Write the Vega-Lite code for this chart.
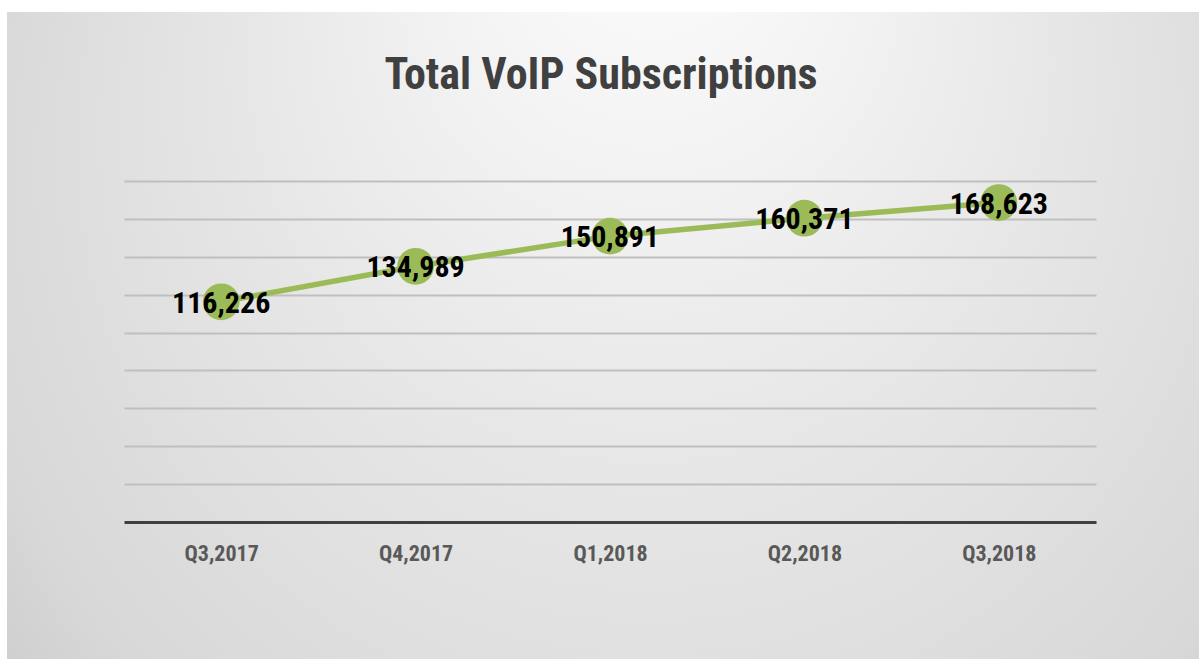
{
  "$schema": "https://vega.github.io/schema/vega-lite/v6.json",
  "width": 1192,
  "height": 647,
  "autosize": {"type": "none"},
  "padding": {"left": 7, "top": 12, "right": 0, "bottom": 0},
  "background": "#ffffff",
  "title": {
    "text": "Total VoIP Subscriptions",
    "font": "Roboto Condensed",
    "fontSize": 44,
    "fontWeight": "bold",
    "color": "#404040",
    "anchor": "middle",
    "baseline": "alphabetic",
    "dx": -2,
    "offset": -121
  },
  "data": {
    "values": [
      {"quarter": "Q3,2017", "subs": 116226},
      {"quarter": "Q4,2017", "subs": 134989},
      {"quarter": "Q1,2018", "subs": 150891},
      {"quarter": "Q2,2018", "subs": 160371},
      {"quarter": "Q3,2018", "subs": 168623}
    ]
  },
  "encoding": {
    "x": {
      "field": "quarter",
      "type": "ordinal",
      "sort": null,
      "scale": {"type": "point", "padding": 0.5, "range": [117, 1089]},
      "axis": {
        "title": null,
        "offset": -137,
        "labelAngle": 0,
        "labelFont": "Roboto Condensed",
        "labelFontSize": 22,
        "labelFontWeight": "bold",
        "labelColor": "#595959",
        "labelPadding": 21,
        "ticks": false,
        "grid": false,
        "domainColor": "#404040",
        "domainWidth": 3
      }
    },
    "y": {
      "field": "subs",
      "type": "quantitative",
      "scale": {"domain": [0, 180000], "nice": false, "range": [510, 169]},
      "axis": {
        "title": null,
        "labels": false,
        "ticks": false,
        "domain": false,
        "values": [20000, 40000, 60000, 80000, 100000, 120000, 140000, 160000, 180000],
        "gridColor": "#bfbfbf",
        "gridWidth": 2
      }
    }
  },
  "layer": [
    {"mark": {"type": "line", "color": "#9bbb59", "strokeWidth": 5.5}},
    {"mark": {"type": "point", "filled": true, "color": "#9bbb59", "opacity": 1, "size": 1350}},
    {
      "mark": {
        "type": "text",
        "font": "Roboto Condensed",
        "fontSize": 30,
        "fontWeight": "bold",
        "color": "#000000",
        "baseline": "middle",
        "align": "center",
        "dy": 2
      },
      "encoding": {"text": {"field": "subs", "type": "quantitative", "format": ",d"}}
    }
  ],
  "config": {
    "view": {
      "stroke": null,
      "fill": {
        "gradient": "radial",
        "x1": 0.54, "y1": 0.1, "r1": 0,
        "x2": 0.54, "y2": 0.5, "r2": 0.8,
        "stops": [
          {"offset": 0, "color": "#ffffff"},
          {"offset": 0.4, "color": "#e8e8e8"},
          {"offset": 0.72, "color": "#d8d8d8"},
          {"offset": 0.9, "color": "#c6c6c6"},
          {"offset": 1, "color": "#c0c0c0"}
        ]
      }
    }
  }
}
